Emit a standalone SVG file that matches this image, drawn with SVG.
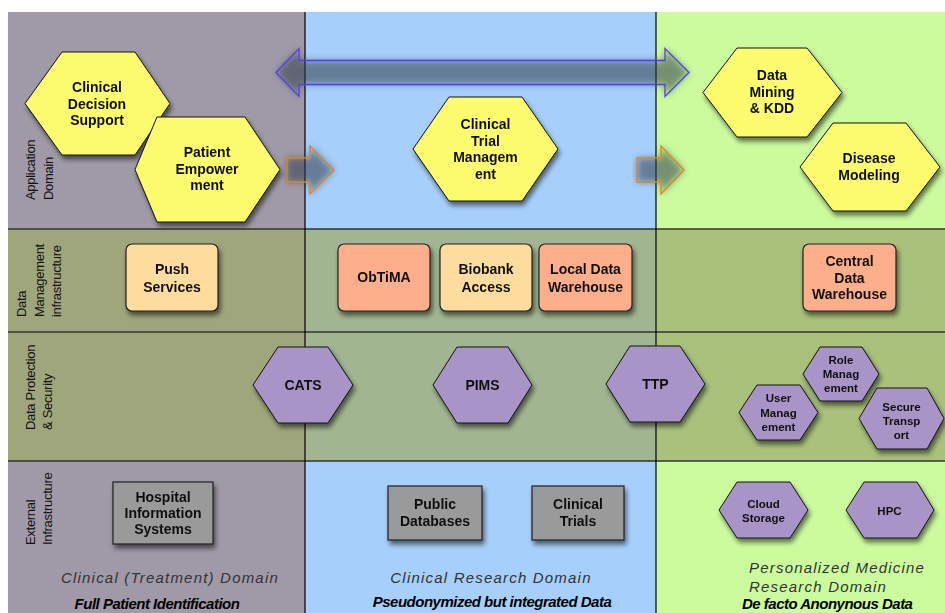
<svg xmlns="http://www.w3.org/2000/svg" width="945" height="613" viewBox="0 0 945 613">
  <defs>
    <filter id="shadow" x="-20%" y="-20%" width="150%" height="160%">
      <feGaussianBlur in="SourceAlpha" stdDeviation="2.5"/>
      <feOffset dx="2" dy="4" result="off"/>
      <feComponentTransfer><feFuncA type="linear" slope="0.55"/></feComponentTransfer>
      <feMerge><feMergeNode/><feMergeNode in="SourceGraphic"/></feMerge>
    </filter>
    <filter id="haze" x="-10%" y="-40%" width="120%" height="180%">
      <feGaussianBlur stdDeviation="3.5"/>
    </filter>
    <style>
      .hexY { fill: #fcfc6e; stroke: #111; stroke-width: 1; }
      .hexP { fill: #a994c7; stroke: #111; stroke-width: 1; }
      .boxS { fill: #fdae8a; stroke: #222; stroke-width: 1.2; }
      .boxP { fill: #fddc9d; stroke: #222; stroke-width: 1.2; }
      .boxG { fill: #9a9a9a; stroke: #222; stroke-width: 1.2; }
      .lbl { font-family: "Liberation Sans", Arial, sans-serif; font-weight: bold; font-size: 14px; fill: #111; text-anchor: middle; }
      .sm { font-size: 11.5px; }
      .row { font-family: "Liberation Sans", Arial, sans-serif; font-size: 13px; fill: #111; letter-spacing: -0.3px; }
      .dom { font-family: "Liberation Sans", Arial, sans-serif; font-style: italic; font-size: 15px; fill: #333; letter-spacing: 1.2px; }
      .sub { font-family: "Liberation Sans", Arial, sans-serif; font-style: italic; font-weight: bold; font-size: 15px; fill: #000; letter-spacing: -0.5px; }
      .sep { stroke: #333; stroke-width: 1.5; }
      .col { stroke: #000; stroke-width: 1.2; }
      .fog { fill: #2e3a4a; opacity: 0.55; filter: url(#haze); }
    </style>
  </defs>

  <!-- background swim lanes -->
  <rect x="0" y="0" width="945" height="613" fill="#fff"/>
  <rect x="8" y="12" width="297" height="601" fill="#a09aa8"/>
  <rect x="305" y="12" width="351" height="601" fill="#a7cffb"/>
  <rect x="656" y="12" width="289" height="601" fill="#ccfb9e"/>
  <!-- data management / protection bands -->
  <rect x="8" y="229" width="297" height="232" fill="#a0a67b"/>
  <rect x="305" y="229" width="351" height="232" fill="#a0b590"/>
  <rect x="656" y="229" width="289" height="232" fill="#a9c17b"/>
  <line class="sep" x1="8" y1="229" x2="945" y2="229"/>
  <line class="sep" x1="8" y1="332" x2="945" y2="332"/>
  <line class="sep" x1="8" y1="461" x2="945" y2="461"/>
  <line class="col" x1="305" y1="12" x2="305" y2="613"/>
  <line class="col" x1="656" y1="12" x2="656" y2="613"/>

  <!-- row titles -->
  <g class="row">
    <text transform="translate(34.5,200) rotate(-90)">Application</text>
    <text transform="translate(52.5,200) rotate(-90)">Domain</text>
    <text transform="translate(26,317) rotate(-90)">Data</text>
    <text transform="translate(43.5,317) rotate(-90)">Management</text>
    <text transform="translate(61,317) rotate(-90)">infrastructure</text>
    <text transform="translate(35,430) rotate(-90)">Data Protection</text>
    <text transform="translate(52,430) rotate(-90)">&amp; Security</text>
    <text transform="translate(35,545) rotate(-90)">External</text>
    <text transform="translate(52,545) rotate(-90)">Infrastructure</text>
  </g>

  <!-- flow arrows -->
  <g id="connectors">
    <path class="fog" d="M276,72.5 L299,48.5 L299,60.5 L665,60.5 L665,48.5 L689,72.5 L665,96.5 L665,84.5 L299,84.5 L299,96.5 Z"/>
    <path d="M276,72.5 L299,48.5 L299,60.5 L665,60.5 L665,48.5 L689,72.5 L665,96.5 L665,84.5 L299,84.5 L299,96.5 Z" fill="none" stroke="#4f3ff0" stroke-width="1.3"/>
    <path class="fog" d="M287,158 L310,158 L310,146 L334,170 L310,194 L310,182 L287,182 Z"/>
    <path d="M287,158 L310,158 L310,146 L334,170 L310,194 L310,182 L287,182 Z" fill="none" stroke="#e0851a" stroke-width="1.3"/>
    <path class="fog" d="M637,158 L661,158 L661,146 L684,170 L661,194 L661,182 L637,182 Z"/>
    <path d="M637,158 L661,158 L661,146 L684,170 L661,194 L661,182 L637,182 Z" fill="none" stroke="#e0851a" stroke-width="1.3"/>
  </g>

  <!-- application domain -->
  <g id="clinical-decision-support" filter="url(#shadow)">
    <polygon class="hexY" points="25,103.5 62,52 135,52 170,103.5 135,155 62,155"/>
    <text class="lbl" x="97" y="92">Clinical</text>
    <text class="lbl" x="97" y="108.5">Decision</text>
    <text class="lbl" x="97" y="125">Support</text>
  </g>
  <g id="patient-empowerment" filter="url(#shadow)">
    <polygon class="hexY" points="135,169.5 157,117 245,117 280,169.5 245,222 157,222"/>
    <text class="lbl" x="207" y="157">Patient</text>
    <text class="lbl" x="207" y="173.5">Empower</text>
    <text class="lbl" x="207" y="190">ment</text>
  </g>
  <g id="clinical-trial-management" filter="url(#shadow)">
    <polygon class="hexY" points="413,149 449,97 522,97 558,149 522,201 449,201"/>
    <text class="lbl" x="485.5" y="129">Clinical</text>
    <text class="lbl" x="485.5" y="145.5">Trial</text>
    <text class="lbl" x="485.5" y="162">Managem</text>
    <text class="lbl" x="485.5" y="178.5">ent</text>
  </g>
  <g id="data-mining-kdd" filter="url(#shadow)">
    <polygon class="hexY" points="703,92.5 737,48 807,48 842,92.5 807,137 737,137"/>
    <text class="lbl" x="772" y="80">Data</text>
    <text class="lbl" x="772" y="96.5">Mining</text>
    <text class="lbl" x="772" y="113">&amp; KDD</text>
  </g>
  <g id="disease-modeling" filter="url(#shadow)">
    <polygon class="hexY" points="800,167 833,123 906,123 940,167 906,211 833,211"/>
    <text class="lbl" x="869" y="163">Disease</text>
    <text class="lbl" x="869" y="179.5">Modeling</text>
  </g>

  <!-- data management infrastructure -->
  <g id="push-services" filter="url(#shadow)">
    <rect class="boxP" x="126" y="244" width="92" height="67" rx="6"/>
    <text class="lbl" x="172" y="274">Push</text>
    <text class="lbl" x="172" y="291.5">Services</text>
  </g>
  <g id="obtima" filter="url(#shadow)">
    <rect class="boxS" x="338" y="244" width="92" height="67" rx="6"/>
    <text class="lbl" x="384" y="282">ObTiMA</text>
  </g>
  <g id="biobank-access" filter="url(#shadow)">
    <rect class="boxP" x="440" y="244" width="92" height="67" rx="6"/>
    <text class="lbl" x="486" y="274">Biobank</text>
    <text class="lbl" x="486" y="291.5">Access</text>
  </g>
  <g id="local-data-warehouse" filter="url(#shadow)">
    <rect class="boxS" x="539" y="244" width="93" height="67" rx="6"/>
    <text class="lbl" x="585.5" y="274">Local Data</text>
    <text class="lbl" x="585.5" y="291.5">Warehouse</text>
  </g>
  <g id="central-data-warehouse" filter="url(#shadow)">
    <rect class="boxS" x="803" y="244" width="93" height="67" rx="6"/>
    <text class="lbl" x="849.5" y="266">Central</text>
    <text class="lbl" x="849.5" y="282.5">Data</text>
    <text class="lbl" x="849.5" y="299">Warehouse</text>
  </g>

  <!-- data protection & security -->
  <g id="cats" filter="url(#shadow)">
    <polygon class="hexP" points="253,385 278,347 328,347 353,385 328,423 278,423"/>
    <text class="lbl" x="303" y="390">CATS</text>
  </g>
  <g id="pims" filter="url(#shadow)">
    <polygon class="hexP" points="433,385 457,347 508,347 532,385 508,423 457,423"/>
    <text class="lbl" x="482.5" y="390">PIMS</text>
  </g>
  <g id="ttp" filter="url(#shadow)">
    <polygon class="hexP" points="606,384 630,346 680,346 705,384 680,422 630,422"/>
    <text class="lbl" x="655.5" y="389">TTP</text>
  </g>
  <g id="role-management" filter="url(#shadow)">
    <polygon class="hexP" points="803,374 820,347 862,347 879,374 862,401 820,401"/>
    <text class="lbl sm" x="841" y="364">Role</text>
    <text class="lbl sm" x="841" y="378">Manag</text>
    <text class="lbl sm" x="841" y="392">ement</text>
  </g>
  <g id="user-management" filter="url(#shadow)">
    <polygon class="hexP" points="739,412.5 757,385 800,385 818,412.5 800,440 757,440"/>
    <text class="lbl sm" x="778.5" y="402">User</text>
    <text class="lbl sm" x="778.5" y="416.5">Manag</text>
    <text class="lbl sm" x="778.5" y="431">ement</text>
  </g>
  <g id="secure-transport" filter="url(#shadow)">
    <polygon class="hexP" points="859,418.5 877,388 927,388 944,418.5 927,449 877,449"/>
    <text class="lbl sm" x="901.5" y="411">Secure</text>
    <text class="lbl sm" x="901.5" y="425">Transp</text>
    <text class="lbl sm" x="901.5" y="439">ort</text>
  </g>

  <!-- external infrastructure -->
  <g id="hospital-information-systems" filter="url(#shadow)">
    <rect class="boxG" x="113" y="482" width="100" height="62"/>
    <text class="lbl" x="163" y="502">Hospital</text>
    <text class="lbl" x="163" y="518">Information</text>
    <text class="lbl" x="163" y="534">Systems</text>
  </g>
  <g id="public-databases" filter="url(#shadow)">
    <rect class="boxG" x="388" y="486" width="94" height="54"/>
    <text class="lbl" x="435" y="509">Public</text>
    <text class="lbl" x="435" y="526">Databases</text>
  </g>
  <g id="clinical-trials" filter="url(#shadow)">
    <rect class="boxG" x="532" y="486" width="92" height="54"/>
    <text class="lbl" x="578" y="509">Clinical</text>
    <text class="lbl" x="578" y="526">Trials</text>
  </g>
  <g id="cloud-storage" filter="url(#shadow)">
    <polygon class="hexP" points="719,510 737,482 790,482 808,510 790,538 737,538"/>
    <text class="lbl sm" x="763.5" y="508">Cloud</text>
    <text class="lbl sm" x="763.5" y="522">Storage</text>
  </g>
  <g id="hpc" filter="url(#shadow)">
    <polygon class="hexP" points="846,510 864,482 917,482 934,510 917,538 864,538"/>
    <text class="lbl sm" x="889.5" y="514.5">HPC</text>
  </g>

  <!-- domain captions -->
  <text class="dom" x="170" y="583" text-anchor="middle">Clinical (Treatment) Domain</text>
  <text class="sub" x="157" y="609" text-anchor="middle">Full Patient Identification</text>
  <text class="dom" x="491" y="583" text-anchor="middle">Clinical Research Domain</text>
  <text class="sub" x="492" y="607" text-anchor="middle">Pseudonymized but integrated Data</text>
  <text class="dom" x="749" y="573">Personalized Medicine</text>
  <text class="dom" x="749" y="592">Research Domain</text>
  <text class="sub" x="742" y="609">De facto Anonynous Data</text>
</svg>
